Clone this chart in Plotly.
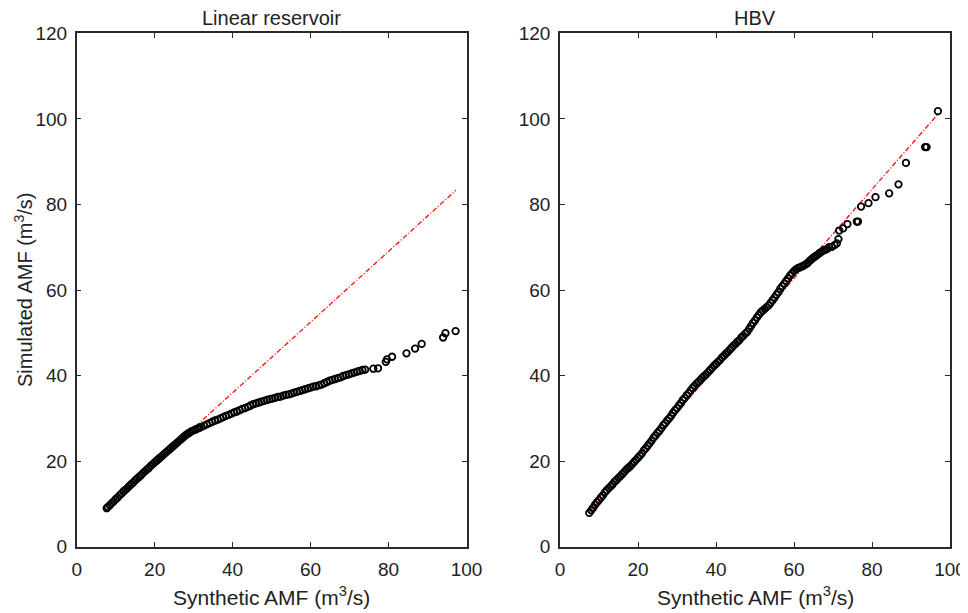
import plotly.graph_objects as go

# ---------------- data ----------------
# Linear reservoir panel: synthetic AMF (x) vs simulated AMF (y), sorted
lr_x = [7.7, 8.0, 8.5, 9.0, 9.5, 10.0, 10.5, 11.0, 11.5, 12.0, 12.5, 13.0, 13.5, 14.0, 14.5,
        15.0, 15.5, 16.0, 16.5, 17.0, 17.5, 18.0, 18.5, 19.0, 19.5, 20.0, 20.5, 21.0, 21.5,
        22.0, 22.5, 23.0, 23.5, 24.0, 24.5, 25.0, 25.5, 26.0, 26.5, 27.0, 27.5, 28.0, 28.5,
        29.0, 29.5, 30.0, 30.5, 31.0, 31.5, 32.0, 32.7, 33.4, 34.1, 34.8, 35.5, 36.2, 36.9,
        37.6, 38.3, 39.0, 39.7, 40.4, 41.1, 41.8, 42.5, 43.2, 43.9, 44.6, 45.3, 46.0, 46.7,
        47.4, 48.1, 48.8, 49.5, 50.2, 50.9, 51.6, 52.3, 53.0, 53.7, 54.4, 55.1, 55.8, 56.5,
        57.2, 57.9, 58.6, 59.3, 60.0, 60.7, 61.4, 62.1, 62.8, 63.5, 64.2, 64.9, 65.6, 66.3,
        67.0, 67.7, 68.4, 69.1, 69.8, 70.5, 71.2, 71.9, 72.6, 73.3, 74.0,
        76.1, 77.3, 79.3, 79.6, 80.9, 84.6, 86.8, 88.5, 94.0, 94.6, 97.2]
lr_y = [9.0, 9.3, 9.7, 10.2, 10.6, 11.1, 11.5, 12.0, 12.4, 12.9, 13.3, 13.7, 14.2, 14.6, 15.0,
        15.5, 15.9, 16.3, 16.7, 17.2, 17.6, 18.0, 18.4, 18.9, 19.3, 19.7, 20.1, 20.5, 20.9,
        21.3, 21.7, 22.1, 22.5, 22.9, 23.3, 23.7, 24.1, 24.5, 24.9, 25.3, 25.7, 26.1, 26.4,
        26.7, 27.0, 27.2, 27.4, 27.6, 27.8, 28.0, 28.3, 28.6, 28.9, 29.2, 29.5, 29.7, 30.0,
        30.3, 30.6, 30.8, 31.1, 31.4, 31.6, 31.9, 32.2, 32.4, 32.7, 33.0, 33.3, 33.5, 33.7,
        33.9, 34.1, 34.3, 34.5, 34.6, 34.8, 35.0, 35.1, 35.3, 35.5, 35.6, 35.8, 36.0, 36.2,
        36.4, 36.6, 36.8, 37.0, 37.2, 37.4, 37.5, 37.7, 37.9, 38.2, 38.5, 38.8, 39.0, 39.2,
        39.4, 39.6, 39.9, 40.1, 40.3, 40.5, 40.7, 40.9, 41.1, 41.3, 41.4,
        41.6, 41.7, 43.2, 43.8, 44.4, 45.2, 46.3, 47.4, 48.9, 49.9, 50.4]
lr_line_x = [7.7, 97.3]
lr_line_y = [9.3, 83.3]

# HBV panel
hbv_x = [7.5, 8.0, 8.5, 9.0, 9.5, 10.0, 10.5, 11.0, 11.5, 12.0, 12.5, 13.0, 13.5, 14.0, 14.5,
         15.0, 15.5, 16.0, 16.5, 17.0, 17.5, 18.0, 18.5, 19.0, 19.5, 20.0, 20.5, 21.0, 21.5,
         22.0, 22.5, 23.0, 23.5, 24.0, 24.5, 25.0, 25.5, 26.0, 26.5, 27.0, 27.5, 28.0, 28.5,
         29.0, 29.5, 30.0, 30.5, 31.0, 31.5, 32.0, 32.5, 33.0, 33.5, 34.0, 34.5, 35.0, 35.5,
         36.0, 36.5, 37.0, 37.5, 38.0, 38.5, 39.0, 39.5, 40.0, 40.5, 41.0, 41.5, 42.0, 42.5,
         43.0, 43.5, 44.0, 44.5, 45.0, 45.5, 46.0, 46.5, 47.0, 47.5, 48.0, 48.5, 49.0, 49.5,
         50.0, 50.5, 51.0, 51.5, 52.0, 52.5, 53.0, 53.5, 54.0, 54.5, 55.0, 55.5, 56.0, 56.5,
         57.0, 57.5, 58.0, 58.5, 59.0, 59.5, 60.0, 60.5, 61.0, 61.5, 62.0, 62.5, 63.0, 63.5,
         64.0, 64.5, 65.0, 65.5, 66.0, 66.5, 67.0, 67.5, 68.0, 68.5, 69.0,
         69.7, 70.4, 71.0, 71.4, 71.6, 72.6, 73.7, 76.1, 76.4, 77.2, 79.1, 80.9, 84.4, 86.8,
         88.7, 93.6, 94.0, 96.9]
hbv_y = [7.9, 8.5, 9.1, 9.8, 10.4, 10.9, 11.5, 12.0, 12.7, 13.2, 13.7, 14.1, 14.6, 15.2, 15.6,
         16.1, 16.5, 17.0, 17.5, 18.0, 18.4, 18.8, 19.3, 19.8, 20.3, 20.8, 21.3, 21.8, 22.5,
         23.0, 23.6, 24.2, 24.8, 25.5, 26.0, 26.6, 27.1, 27.7, 28.4, 28.9, 29.5, 30.0, 30.6,
         31.3, 31.9, 32.4, 33.0, 33.6, 34.3, 34.8, 35.4, 35.9, 36.5, 37.1, 37.6, 38.1, 38.5,
         39.0, 39.5, 39.9, 40.3, 40.8, 41.3, 41.8, 42.3, 42.7, 43.2, 43.6, 44.2, 44.6, 45.1,
         45.5, 46.0, 46.5, 47.0, 47.4, 47.9, 48.3, 48.9, 49.3, 49.8, 50.2, 50.9, 51.6, 52.3,
         52.9, 53.6, 54.2, 54.8, 55.2, 55.6, 56.0, 56.4, 57.0, 57.6, 58.2, 58.9, 59.5, 60.3,
         60.9, 61.5, 62.1, 62.7, 63.4, 63.9, 64.4, 64.8, 65.1, 65.3, 65.5, 65.7, 66.0, 66.3,
         66.8, 67.2, 67.6, 67.9, 68.2, 68.6, 68.9, 69.2, 69.4, 69.6, 70.0,
         70.1, 70.5, 70.9, 71.9, 73.9, 74.4, 75.4, 76.0, 76.0, 79.5, 80.3, 81.7, 82.6, 84.7,
         89.7, 93.4, 93.4, 101.8]
hbv_line_x = [7.5, 97.0]
hbv_line_y = [8.1, 101.2]

panel_titles = ["Linear reservoir", "HBV"]
x_title = "Synthetic AMF (m<sup>3</sup>/s)"
y_title = "Simulated AMF (m<sup>3</sup>/s)"
x_ticks = [0, 20, 40, 60, 80, 100]
y_ticks = [0, 20, 40, 60, 80, 100, 120]

# ---------------- figure ----------------
# the page body has an 8px margin, so the figure is 8px smaller than the window
OFF = 8
W, H = 968 - OFF, 613 - OFF
FONT = "Liberation Sans, Arial, sans-serif"
AX = "#2a2a2a"

def px2x(p):
    return (p - OFF) / W

def py2y(p):
    return 1 - (p - OFF) / H

dom_left = [px2x(76.7), px2x(466.5)]
dom_right = [px2x(560.0), px2x(950.0)]
dom_y = [py2y(546.7), py2y(33.3)]

fig = go.Figure()

marker = dict(symbol="circle-open", color="black", size=6.5, line=dict(width=1.8, color="black"))
dash = "5px,2px,1px,2px"

fig.add_trace(go.Scatter(x=lr_line_x, y=lr_line_y, mode="lines",
                         line=dict(color="#ff1a1a", width=1.4, dash=dash),
                         xaxis="x", yaxis="y", showlegend=False))
fig.add_trace(go.Scatter(x=lr_x, y=lr_y, mode="markers", marker=marker,
                         xaxis="x", yaxis="y", showlegend=False))
fig.add_trace(go.Scatter(x=hbv_line_x, y=hbv_line_y, mode="lines",
                         line=dict(color="#ff1a1a", width=1.4, dash=dash),
                         xaxis="x2", yaxis="y2", showlegend=False))
fig.add_trace(go.Scatter(x=hbv_x, y=hbv_y, mode="markers", marker=marker,
                         xaxis="x2", yaxis="y2", showlegend=False))

axis_common = dict(
    showline=True, linecolor=AX, linewidth=1.5, mirror="ticks",
    ticks="inside", ticklen=5, tickwidth=1.2, tickcolor=AX,
    showgrid=False, zeroline=False, automargin=False,
    tickfont=dict(family=FONT, size=19, color="#222222"),
)

fig.update_layout(
    width=W, height=H,
    margin=dict(l=0, r=0, t=0, b=0, pad=0, autoexpand=False),
    paper_bgcolor="white", plot_bgcolor="white",
    xaxis=dict(domain=dom_left, range=[0, 100], tickvals=x_ticks, anchor="y",
               ticklabelstandoff=5, **axis_common),
    yaxis=dict(domain=dom_y, range=[0, 120], tickvals=y_ticks, anchor="x",
               ticklabelstandoff=4, **axis_common),
    xaxis2=dict(domain=dom_right, range=[0, 100], tickvals=x_ticks, anchor="y2",
                ticklabelstandoff=5, **axis_common),
    yaxis2=dict(domain=dom_y, range=[0, 120], tickvals=y_ticks, anchor="x2",
                ticklabelstandoff=4, **axis_common),
)

title_font = dict(family=FONT, size=20, color="#222222")
xtitle_font = dict(family=FONT, size=21, color="#222222")
annotations = [
    dict(text=panel_titles[0], x=(dom_left[0] + dom_left[1]) / 2, y=py2y(18),
         xref="paper", yref="paper", showarrow=False, font=title_font,
         xanchor="center", yanchor="middle"),
    dict(text=panel_titles[1], x=(dom_right[0] + dom_right[1]) / 2, y=py2y(18),
         xref="paper", yref="paper", showarrow=False, font=title_font,
         xanchor="center", yanchor="middle"),
    dict(text=x_title, x=(dom_left[0] + dom_left[1]) / 2, y=py2y(596),
         xref="paper", yref="paper", showarrow=False, font=xtitle_font,
         xanchor="center", yanchor="middle"),
    dict(text=x_title, x=(dom_right[0] + dom_right[1]) / 2, y=py2y(596),
         xref="paper", yref="paper", showarrow=False, font=xtitle_font,
         xanchor="center", yanchor="middle"),
    dict(text=y_title, x=px2x(23), y=(dom_y[0] + dom_y[1]) / 2, textangle=-90,
         xref="paper", yref="paper", showarrow=False, font=title_font,
         xanchor="center", yanchor="middle"),
]
fig.update_layout(annotations=annotations)

fig.write_html("out.html")
